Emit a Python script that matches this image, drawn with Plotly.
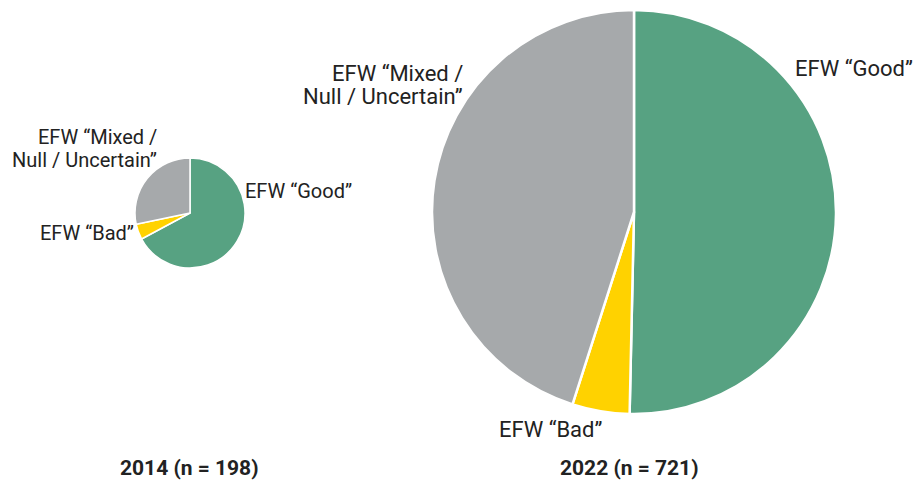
import plotly.graph_objects as go

W, H = 916, 482

categories = ["EFW “Good”", "EFW “Bad”", "EFW “Mixed /<br>Null / Uncertain”"]
values_2014 = [133, 9, 56]
values_2022 = [363, 33, 325]
titles = ["2014 (n = 198)", "2022 (n = 721)"]
colors = ["#57a282", "#ffd200", "#a6a9ab"]


def px_x(x):
    return x / W


def px_y(y):
    return 1 - y / H


fig = go.Figure()

# small pie, 2014
fig.add_trace(go.Pie(
    labels=categories, values=values_2014, sort=False, direction="clockwise", rotation=0,
    marker=dict(colors=colors, line=dict(color="white", width=1.5)),
    textinfo="none", hoverinfo="label+value+percent", showlegend=False,
    domain=dict(x=[px_x(135), px_x(245)], y=[px_y(268), px_y(158)]),
))

# big pie, 2022
fig.add_trace(go.Pie(
    labels=categories, values=values_2022, sort=False, direction="clockwise", rotation=0,
    marker=dict(colors=colors, line=dict(color="white", width=2.5)),
    textinfo="none", hoverinfo="label+value+percent", showlegend=False,
    domain=dict(x=[px_x(432), px_x(836)], y=[px_y(414), px_y(10)]),
))

lab_font = dict(family="Roboto, Arial, sans-serif", color="#222222")

good, bad, mixed = categories
mixed1, mixed2 = mixed.split("<br>")

# (text, x, y, xanchor, size) -- one annotation per line for tight line spacing
labels = [
    (mixed1, 159, 137, "right", 20),
    (mixed2, 159, 160, "right", 20),
    (good, 243, 191, "left", 20),
    (bad, 136, 233, "right", 20),
    (mixed1, 465, 73, "right", 22),
    (mixed2, 465, 97, "right", 22),
    (good, 793, 69, "left", 22),
    (bad, 497, 429, "left", 22),
]
for text, x, y, xa, size in labels:
    fig.add_annotation(
        text=text, x=px_x(x), y=px_y(y), xref="paper", yref="paper",
        xanchor=xa, yanchor="middle", align=xa, showarrow=False,
        font=dict(size=size, **lab_font),
    )

for text, x in zip(titles, [189, 629]):
    fig.add_annotation(
        text=f"<b>{text}</b>", x=px_x(x), y=px_y(481), xref="paper", yref="paper",
        xanchor="center", yanchor="bottom", showarrow=False, borderpad=0,
        font=dict(size=21, **lab_font),
    )

fig.update_layout(
    width=W, height=H, margin=dict(l=0, r=0, t=0, b=0),
    paper_bgcolor="white", plot_bgcolor="white",
)

fig.write_html("out.html", config={"displayModeBar": False},
               post_script="document.body.style.margin = '0';")
